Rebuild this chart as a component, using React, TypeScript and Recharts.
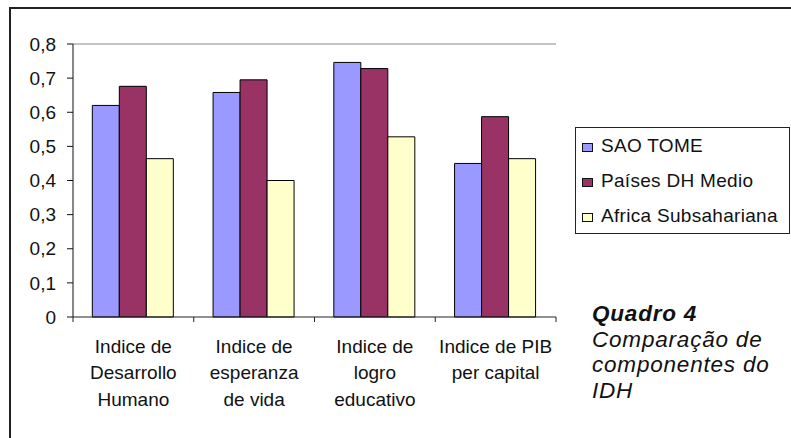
import { Bar, BarChart, Legend, ReferenceLine, XAxis, YAxis } from "recharts";

const categoryLines = [
  ["Indice de", "Desarrollo", "Humano"],
  ["Indice de", "esperanza", "de vida"],
  ["Indice de", "logro", "educativo"],
  ["Indice de PIB", "per capital"],
];
const saoTome = [0.62, 0.658, 0.746, 0.45];
const paisesDhMedio = [0.676, 0.695, 0.728, 0.587];
const africaSubsahariana = [0.464, 0.4, 0.528, 0.464];
const seriesNames = ["SAO TOME", "Países DH Medio", "Africa Subsahariana"];
const yTicks = [0, 0.1, 0.2, 0.3, 0.4, 0.5, 0.6, 0.7, 0.8];
const captionTitle = "Quadro 4";
const captionLines = ["Comparação de", "componentes do", "IDH"];

const data = categoryLines.map((lines, i) => ({
  name: lines.join(" "),
  sao: saoTome[i],
  medio: paisesDhMedio[i],
  africa: africaSubsahariana[i],
}));

const font = '"Liberation Sans", Arial, sans-serif';

const CategoryTick = (props: any) => {
  const { x, y, payload, index, visibleTicksCount, width } = props;
  const half = payload?.offset ? payload.offset : width / visibleTicksCount / 2;
  const lines = categoryLines.find((l) => l.join(" ") === payload.value) || [];
  return (
    <g>
      <line x1={x - half} x2={x - half} y1={y} y2={y + 5} stroke="#222" />
      {index === visibleTicksCount - 1 && (
        <line x1={x + half} x2={x + half} y1={y} y2={y + 5} stroke="#222" />
      )}
      <text textAnchor="middle" fontSize={19} fill="#111" fontFamily={font}>
        {lines.map((l, i) => (
          <tspan key={i} x={x} y={y + 36 + i * 26.3}>
            {l}
          </tspan>
        ))}
      </text>
    </g>
  );
};

// keep legend rows in the order of the series, whatever order recharts hands them over
const LegendBox = (props: any) => {
  const items = seriesNames
    .map((n) => (props.payload || []).find((p: any) => p.value === n))
    .filter(Boolean);
  return (
    <div
      style={{
        width: 213,
        height: 105,
        border: "1px solid #222",
        background: "#fff",
        fontFamily: font,
        textAlign: "left",
      }}
    >
      {items.map((item: any) => (
        <div
          key={item.value}
          style={{
            height: 35,
            lineHeight: "35px",
            fontSize: 19,
            letterSpacing: 0.3,
            paddingLeft: 6,
            whiteSpace: "nowrap",
            color: "#111",
          }}
        >
          <span
            style={{
              display: "inline-block",
              width: 9,
              height: 7,
              background: item.color,
              border: "1px solid #111",
              marginRight: 8,
            }}
          />
          {item.value}
        </div>
      ))}
    </div>
  );
};

export default function App() {
  return (
    <div
      style={{
        position: "absolute",
        left: 0,
        top: 0,
        width: 791,
        height: 438,
        overflow: "hidden",
        background: "#fff",
        fontFamily: font,
      }}
    >
      <div
        style={{
          position: "absolute",
          left: 9,
          top: 7,
          width: 800,
          height: 450,
          border: "2px solid #222",
        }}
      />
      <div style={{ position: "absolute", left: 0, top: 0 }}>
        <BarChart
          width={791}
          height={438}
          data={data}
          margin={{ top: 44, right: 235, left: 13, bottom: 41 }}
          barCategoryGap="16%"
          barGap={0}
        >
          <XAxis
            dataKey="name"
            interval={0}
            tickLine={false}
            tickSize={0}
            tickMargin={0}
            height={80}
            axisLine={{ stroke: "#222" }}
            tick={<CategoryTick />}
          />
          <YAxis
            domain={[0, 0.8]}
            ticks={yTicks}
            width={60}
            tickSize={6}
            tickMargin={11}
            axisLine={{ stroke: "#111" }}
            tickLine={{ stroke: "#111" }}
            tick={{ fill: "#111", fontSize: 19, fontFamily: font }}
            tickFormatter={(v: number) => (v === 0 ? "0" : v.toFixed(1).replace(".", ","))}
          />
          <YAxis
            yAxisId="right"
            orientation="right"
            domain={[0, 0.8]}
            width={0}
            tick={false}
            tickLine={false}
            axisLine={{ stroke: "#888" }}
          />
          <ReferenceLine y={0.8} stroke="#888" />
          <Bar dataKey="sao" name={seriesNames[0]} fill="#9999FF" stroke="#000" isAnimationActive={false} />
          <Bar dataKey="medio" name={seriesNames[1]} fill="#993366" stroke="#000" isAnimationActive={false} />
          <Bar dataKey="africa" name={seriesNames[2]} fill="#FFFFCC" stroke="#000" isAnimationActive={false} />
          <Legend
            layout="horizontal"
            verticalAlign="middle"
            align="center"
            width={215}
            height={107}
            wrapperStyle={{ left: 575, top: 127 }}
            content={<LegendBox />}
          />
        </BarChart>
      </div>
      <div
        style={{
          position: "absolute",
          left: 592,
          top: 301,
          fontSize: 22.5,
          lineHeight: "25.7px",
          fontStyle: "italic",
          color: "#111",
          letterSpacing: 0.8,
          whiteSpace: "nowrap",
        }}
      >
        <div style={{ fontWeight: "bold" }}>{captionTitle}</div>
        {captionLines.map((l) => (
          <div key={l}>{l}</div>
        ))}
      </div>
    </div>
  );
}
